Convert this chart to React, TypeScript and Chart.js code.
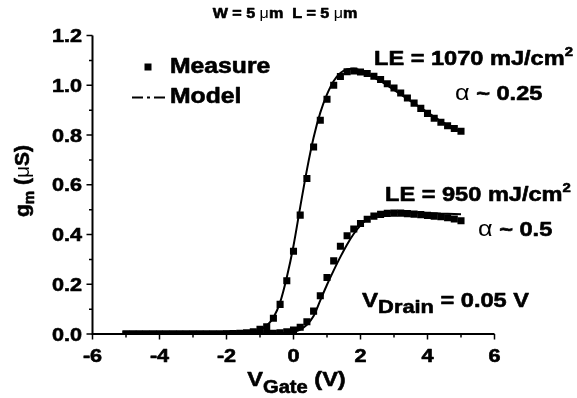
import { useEffect, useRef } from "react";
import { Chart, registerables } from "chart.js";

Chart.register(...registerables);

// ---------- data ----------
const vGate = [
  -5.0, -4.8, -4.6, -4.4, -4.2, -4.0, -3.8, -3.6, -3.4, -3.2, -3.0, -2.8, -2.6,
  -2.4, -2.2, -2.0, -1.8, -1.6, -1.4, -1.2, -1.0, -0.8, -0.6, -0.4, -0.2, 0.0,
  0.2, 0.4, 0.6, 0.8, 1.0, 1.2, 1.4, 1.6, 1.8, 2.0, 2.2, 2.4, 2.6, 2.8, 3.0,
  3.2, 3.4, 3.6, 3.8, 4.0, 4.2, 4.4, 4.6, 4.8, 5.0,
];

// LE = 1070 mJ/cm2, measured gm (uS)
const measure1070 = [
  0, 0, 0, 0, 0, 0, 0, 0, 0, 0, 0, 0, 0, 0, 0,
  0.001, 0.002, 0.003, 0.005, 0.009, 0.019, 0.029, 0.063, 0.119, 0.214,
  0.333, 0.478, 0.625, 0.752, 0.859, 0.944, 1.0, 1.035, 1.054, 1.057,
  1.053, 1.047, 1.036, 1.023, 1.006, 0.989, 0.969, 0.949, 0.928, 0.907,
  0.887, 0.867, 0.851, 0.837, 0.826, 0.815,
];

// LE = 1070 mJ/cm2, model
const model1070 = [
  0, 0, 0, 0, 0, 0, 0, 0, 0, 0, 0, 0, 0, 0, 0,
  0.002, 0.003, 0.005, 0.007, 0.011, 0.018, 0.033, 0.066, 0.127, 0.228,
  0.355, 0.51, 0.66, 0.79, 0.89, 0.963, 1.017, 1.049, 1.064, 1.066,
  1.059, 1.047, 1.032, 1.016, 0.999, 0.981, 0.963, 0.945, 0.927, 0.909,
  0.891, 0.873, 0.856, 0.84, 0.826, 0.812,
];

// LE = 950 mJ/cm2, measured gm (uS)
const measure950 = [
  0, 0, 0, 0, 0, 0, 0, 0, 0, 0, 0, 0, 0, 0, 0, 0, 0, 0, 0, 0, 0,
  0.002, 0.003, 0.005, 0.009,
  0.016, 0.027, 0.049, 0.092, 0.154, 0.227, 0.294, 0.353, 0.395, 0.422,
  0.444, 0.461, 0.474, 0.481, 0.485, 0.486, 0.486, 0.484, 0.482, 0.48,
  0.477, 0.474, 0.471, 0.467, 0.462, 0.455,
];

// LE = 950 mJ/cm2, model
const model950 = [
  0, 0, 0, 0, 0, 0, 0, 0, 0, 0, 0, 0, 0, 0, 0, 0, 0, 0, 0, 0, 0,
  0.001, 0.002, 0.003, 0.005,
  0.009, 0.018, 0.037, 0.072, 0.135, 0.198, 0.256, 0.31, 0.36, 0.403,
  0.437, 0.462, 0.477, 0.484, 0.488, 0.489, 0.489, 0.489, 0.488, 0.487,
  0.486, 0.485, 0.484, 0.483, 0.482, 0.481,
];

const xMin = -6;
const xMax = 6;
const xStep = 2;
const yMin = 0;
const yMax = 1.2;
const yStep = 0.2;

// ---------- text helpers ----------
const FAM = '"Liberation Sans", Arial, Helvetica, sans-serif';
const SX = 1.15;

type Seg = { t: string; size: number; dy?: number; bold?: boolean };

function fnt(size: number, bold = true) {
  return `${bold ? "bold " : ""}${size}px ${FAM}`;
}

function drawRich(
  ctx: CanvasRenderingContext2D,
  segs: Seg[],
  x: number,
  y: number,
  align: "left" | "center" | "right" = "left",
  sx: number = SX
) {
  const widths = segs.map((s) => {
    ctx.font = fnt(s.size, s.bold !== false);
    return ctx.measureText(s.t).width * sx;
  });
  const total = widths.reduce((p, c) => p + c, 0);
  let cx = align === "left" ? x : align === "center" ? x - total / 2 : x - total;
  segs.forEach((s, i) => {
    ctx.save();
    const bold = s.bold !== false;
    ctx.font = fnt(s.size, bold);
    ctx.textAlign = "left";
    ctx.textBaseline = "alphabetic";
    ctx.translate(cx, y + (s.dy || 0));
    ctx.scale(sx, 1);
    ctx.fillText(s.t, 0, 0);
    if (bold) {
      ctx.lineWidth = 0.6;
      ctx.lineJoin = "round";
      ctx.strokeText(s.t, 0, 0);
    }
    ctx.restore();
    cx += widths[i];
  });
}

const overlay = {
  id: "overlay",
  afterDraw(chart: any) {
    const { ctx, chartArea: a, scales } = chart;
    const xs = scales.x;
    const ys = scales.y;
    ctx.save();
    ctx.fillStyle = "#000";
    ctx.strokeStyle = "#000";

    // axis lines
    ctx.lineWidth = 2;
    ctx.beginPath();
    ctx.moveTo(a.left, a.top);
    ctx.lineTo(a.left, a.bottom + 1);
    ctx.moveTo(a.left - 1, a.bottom);
    ctx.lineTo(a.right, a.bottom);
    ctx.stroke();

    // ticks (major from the scale, minor halfway between)
    ctx.lineWidth = 1.5;
    const yT = ys.ticks.map((t: any) => t.value);
    const xT = xs.ticks.map((t: any) => t.value);
    ctx.beginPath();
    yT.forEach((v: number, i: number) => {
      const p = ys.getPixelForValue(v);
      ctx.moveTo(a.left - 6, p);
      ctx.lineTo(a.left, p);
      if (i < yT.length - 1) {
        const m = ys.getPixelForValue((v + yT[i + 1]) / 2);
        ctx.moveTo(a.left - 3.5, m);
        ctx.lineTo(a.left, m);
      }
    });
    xT.forEach((v: number, i: number) => {
      const p = xs.getPixelForValue(v);
      ctx.moveTo(p, a.bottom);
      ctx.lineTo(p, a.bottom + 5.5);
      if (i < xT.length - 1) {
        const m = xs.getPixelForValue((v + xT[i + 1]) / 2);
        ctx.moveTo(m, a.bottom);
        ctx.lineTo(m, a.bottom + 3.5);
      }
    });
    ctx.stroke();

    // tick labels
    yT.forEach((v: number) => {
      const p = ys.getPixelForValue(v);
      drawRich(ctx, [{ t: v.toFixed(1), size: 18 }], a.left - 10.5, p + 6.5, "right", 1.2);
    });
    xT.forEach((v: number) => {
      const p = xs.getPixelForValue(v);
      drawRich(ctx, [{ t: String(Math.round(v)), size: 18 }], p, a.bottom + 28, "center", 1.2);
    });

    // axis titles
    drawRich(
      ctx,
      [
        { t: "V", size: 20.5 },
        { t: "Gate", size: 17.5, dy: 7 },
        { t: " (V)", size: 20.5 },
      ],
      (a.left + a.right) / 2 + 3,
      386,
      "center"
    );
    ctx.save();
    ctx.translate(28.5, 181);
    ctx.rotate(-Math.PI / 2);
    drawRich(
      ctx,
      [
        { t: "g", size: 21 },
        { t: "m", size: 15, dy: 5 },
        { t: " (", size: 21 },
        { t: "\u03bc", size: 21, bold: false },
        { t: "S)", size: 21 },
      ],
      0,
      0,
      "center",
      1
    );
    ctx.restore();

    // top title
    drawRich(
      ctx,
      [
        { t: "W = 5 ", size: 14 },
        { t: "\u03bc", size: 14, bold: false },
        { t: "m  L = 5 ", size: 14 },
        { t: "\u03bc", size: 14, bold: false },
        { t: "m", size: 14 },
      ],
      285,
      18,
      "center"
    );

    // legend
    ctx.fillRect(144.5, 63.5, 7, 7);
    drawRich(ctx, [{ t: "Measure", size: 21.5 }], 170, 72.5);
    ctx.save();
    ctx.lineWidth = 2;
    ctx.setLineDash([11, 4, 3, 4]);
    ctx.beginPath();
    ctx.moveTo(132, 97.5);
    ctx.lineTo(166, 97.5);
    ctx.stroke();
    ctx.restore();
    drawRich(ctx, [{ t: "Model", size: 21.5 }], 170, 102.5);

    // annotations
    drawRich(
      ctx,
      [
        { t: "LE = 1070 mJ/cm", size: 20.5 },
        { t: "2", size: 13, dy: -9 },
      ],
      374,
      65
    );
    drawRich(
      ctx,
      [
        { t: "\u03b1", size: 22, bold: false },
        { t: " ~ 0.25", size: 20.5 },
      ],
      455,
      100
    );
    drawRich(
      ctx,
      [
        { t: "LE = 950 mJ/cm", size: 20.5 },
        { t: "2", size: 13, dy: -9 },
      ],
      385,
      201
    );
    drawRich(
      ctx,
      [
        { t: "\u03b1", size: 22, bold: false },
        { t: " ~ 0.5", size: 20.5 },
      ],
      478,
      236
    );
    drawRich(
      ctx,
      [
        { t: "V", size: 21 },
        { t: "Drain", size: 19, dy: 6 },
        { t: " = 0.05 V", size: 20.5 },
      ],
      362,
      307
    );

    ctx.restore();
  },
};

export default function App() {
  const ref = useRef<HTMLCanvasElement | null>(null);

  useEffect(() => {
    document.body.style.margin = "0";
    const canvas = ref.current;
    if (!canvas) return;

    const pts = (ys: number[]) => vGate.map((x, i) => ({ x, y: ys[i] }));

    const modelStyle = {
      type: "line" as const,
      borderColor: "#000",
      borderWidth: 2,
      pointRadius: 0,
      fill: false,
      cubicInterpolationMode: "monotone" as const,
      clip: 0,
    };
    const measureStyle = {
      type: "line" as const,
      showLine: false,
      pointStyle: "rect" as const,
      pointRadius: 5,
      pointBorderWidth: 0,
      pointBackgroundColor: "#000",
      pointBorderColor: "#000",
      borderColor: "#000",
      clip: 0,
    };

    const chart = new Chart(canvas, {
      type: "line",
      data: {
        datasets: [
          { label: "Model 1070", data: pts(model1070), ...modelStyle },
          { label: "Model 950", data: pts(model950), ...modelStyle },
          { label: "Measure 1070", data: pts(measure1070), ...measureStyle },
          { label: "Measure 950", data: pts(measure950), ...measureStyle },
        ] as any,
      },
      options: {
        responsive: false,
        animation: false,
        layout: { padding: { left: 0, top: 35.5, right: 577 - 494.5, bottom: 0 } },
        plugins: {
          legend: { display: false },
          tooltip: { enabled: false },
          title: { display: false },
        },
        scales: {
          x: {
            type: "linear",
            min: xMin,
            max: xMax,
            ticks: { stepSize: xStep, display: false },
            grid: { display: false },
            border: { display: false },
            afterFit: (s: any) => {
              s.height = 398 - 334;
            },
          },
          y: {
            type: "linear",
            min: yMin,
            max: yMax,
            ticks: { stepSize: yStep, display: false },
            grid: { display: false },
            border: { display: false },
            afterFit: (s: any) => {
              s.width = 92.5;
            },
          },
        },
      },
      plugins: [overlay],
    });

    return () => chart.destroy();
  }, []);

  return (
    <div style={{ width: 577, height: 398, background: "#fff" }}>
      <canvas ref={ref} width={577} height={398} style={{ display: "block" }} />
    </div>
  );
}
